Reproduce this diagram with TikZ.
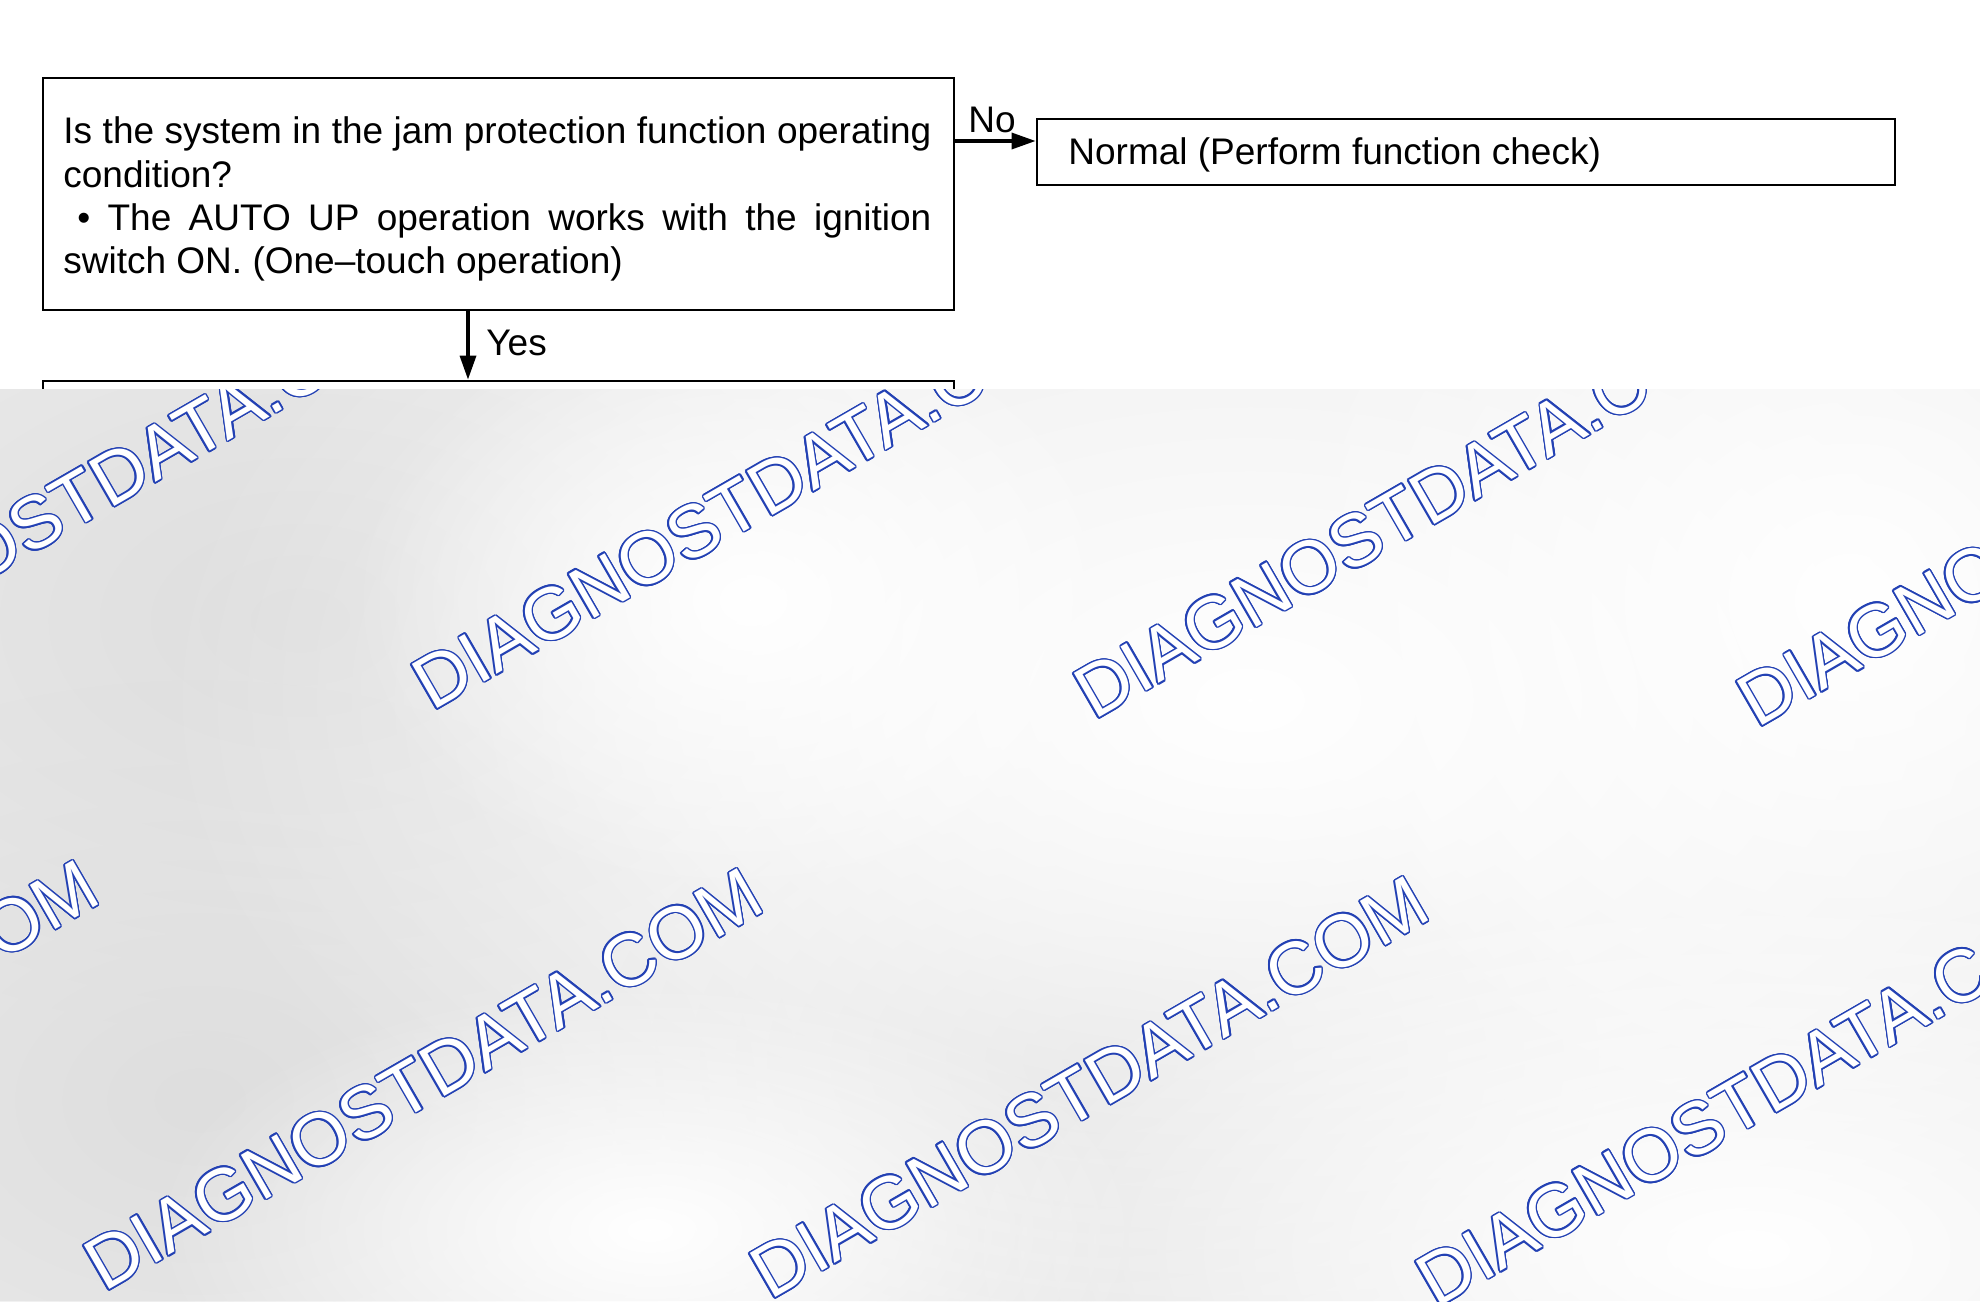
\documentclass[tikz,border=0pt]{standalone}
\usepackage{fontspec}
\setmainfont{Liberation Sans}
\usetikzlibrary{arrows.meta,calc,fadings}
\definecolor{wmblue}{RGB}{35,65,180}
\definecolor{bggray}{RGB}{235,235,235}
\definecolor{dkgray}{RGB}{222,222,222}
\tikzfading[name=softblob, inner color=transparent!0, outer color=transparent!100]
\tikzset{
  box/.style={draw, line width=1.4pt, inner sep=0pt, rectangle},
  txt/.style={anchor=base west, inner sep=0pt, font=\fontsize{18.5}{22}\selectfont},
  arr/.style={line width=1.7pt, -{Triangle[length=12pt,width=8pt]}},
  wm/.style={anchor=base west, inner sep=0pt, rotate=30, font=\fontsize{37}{42}\selectfont},
  blobw/.style={fill=white, path fading=softblob},
  blobd/.style={fill=dkgray, path fading=softblob},
}
\newcommand{\wmk}[3]{%
  \foreach \a in {0,22.5,...,337.5}{%
    \node[wm, text=wmblue] at ($(#1,#2)+(\a:1.5)$) {DIAGNOSTDATA.COM};
  }
  \node[wm, text=white] (#3) at (#1,#2) {DIAGNOSTDATA.COM};
}
\begin{document}
\begin{tikzpicture}[x=0.5pt, y=-0.5pt]
\useasboundingbox (0,0) rectangle (1980,1301);
\fill[white] (0,0) rectangle (1980,1301);

% boxes
\node[box, minimum width=455.5pt, minimum height=116pt] (q) at (498.5,194) {};
\node[box, minimum width=429pt, minimum height=33pt] (n) at (1466,152) {};
\node[box, minimum width=455.5pt, minimum height=60pt] (q2) at (498.5,441) {};

% texts
\node[txt] (l1) at (63,143) {\makebox[434pt][s]{Is the system in the jam protection function operating}};
\node[txt] (l2) at (63,187) {condition?};
\node[txt] (l3) at (63,230) {\makebox[434pt][s]{\hspace*{7pt}•\ The AUTO UP operation works with the ignition}};
\node[txt] (l4) at (63,273) {switch ON. (One–touch operation)};
\node[txt] (nt) at (1068,164) {Normal (Perform function check)};
\node[txt] (no) at (968,132) {No};
\node[txt] (yes) at (486,355) {Yes};

% connectors
\coordinate (ny) at (0,141);
\coordinate (yx) at (468,0);
\draw[arr] (q.east |- ny) -- (n.west |- ny);
\draw[arr] (q.south -| yx) -- (q2.north -| yx);

% watermark overlay
\begin{scope}
\clip (0,389) rectangle (1980,1301);
\fill[bggray] (0,389) rectangle (1980,1301);
\fill[blobd] (300,620) ellipse (650 and 420);
\fill[blobd] (200,1100) ellipse (600 and 420);
\fill[blobd] (1100,1060) ellipse (500 and 320);
\fill[blobw] (1250,700) ellipse (1100 and 650);
\fill[blobw] (1850,600) ellipse (600 and 550);
\fill[blobw] (1750,1250) ellipse (800 and 380);
\fill[blobw] (650,1230) ellipse (500 and 250);
\fill[blobw] (750,600) ellipse (400 and 300);
\wmk{-226}{703}{wa}
\wmk{432}{712}{wb}
\wmk{1094}{721}{wc}
\wmk{1757}{729}{wd}
\wmk{-560}{1285}{we}
\wmk{104}{1293}{wf}
\wmk{770}{1301}{wg}
\wmk{1436}{1309}{wh}
\end{scope}
\end{tikzpicture}
\end{document}
